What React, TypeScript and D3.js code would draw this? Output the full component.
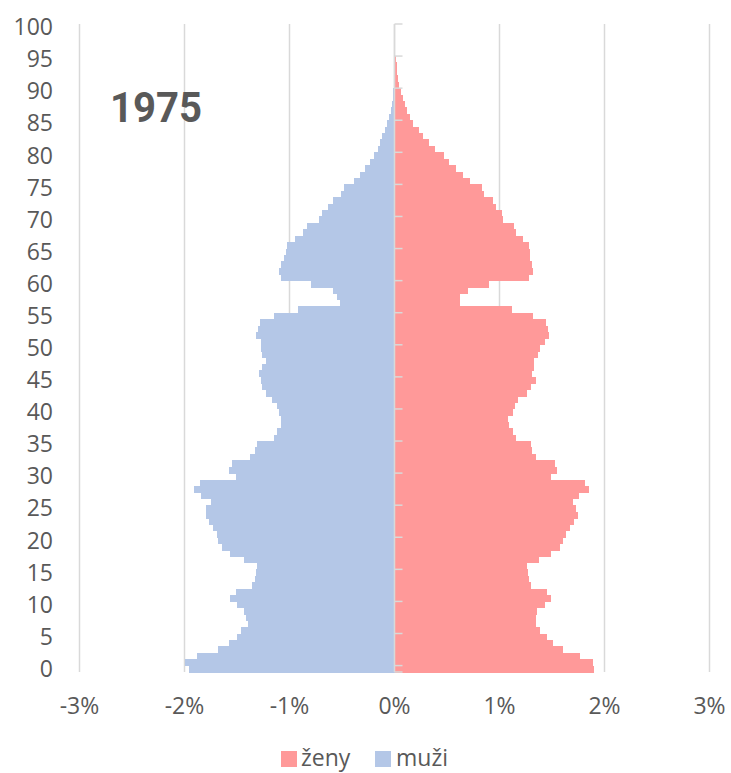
import React from "react";
import * as d3 from "d3";

// Age categories 0..100
const ages: number[] = Array.from({ length: 101 }, (_, i) => i);

// Share of population (%) by single year of age, women (ženy)
const zeny: number[] = [
  1.90, 1.89, 1.77, 1.60, 1.51, 1.45, 1.39, 1.35, 1.35, 1.36,
  1.43, 1.49, 1.45, 1.30, 1.28, 1.27, 1.26, 1.38, 1.49, 1.58,
  1.60, 1.63, 1.67, 1.71, 1.75, 1.73, 1.70, 1.76, 1.85, 1.81,
  1.49, 1.55, 1.53, 1.35, 1.31, 1.30, 1.16, 1.13, 1.09, 1.08,
  1.13, 1.15, 1.18, 1.26, 1.30, 1.35, 1.31, 1.33, 1.33, 1.37,
  1.39, 1.43, 1.47, 1.46, 1.44, 1.32, 1.12, 0.62, 0.62, 0.70,
  0.90, 1.28, 1.32, 1.31, 1.29, 1.29, 1.28, 1.22, 1.16, 1.14,
  1.03, 1.02, 0.97, 0.94, 0.85, 0.83, 0.72, 0.65, 0.59, 0.52,
  0.47, 0.39, 0.33, 0.27, 0.23, 0.18, 0.15, 0.12, 0.10, 0.078,
  0.059, 0.046, 0.036, 0.027, 0.020, 0.014, 0.009, 0.006, 0.004, 0.002,
  0.001,
];

// Share of population (%) by single year of age, men (muži)
const muzi: number[] = [
  1.96, 2.00, 1.88, 1.68, 1.58, 1.50, 1.46, 1.40, 1.41, 1.43,
  1.50, 1.57, 1.51, 1.36, 1.33, 1.32, 1.31, 1.43, 1.57, 1.64,
  1.68, 1.69, 1.73, 1.77, 1.80, 1.80, 1.75, 1.84, 1.91, 1.85,
  1.51, 1.58, 1.55, 1.38, 1.33, 1.31, 1.15, 1.12, 1.08, 1.08,
  1.10, 1.12, 1.17, 1.22, 1.26, 1.27, 1.29, 1.26, 1.22, 1.26,
  1.27, 1.27, 1.32, 1.30, 1.28, 1.15, 0.92, 0.52, 0.55, 0.59,
  0.80, 1.08, 1.10, 1.08, 1.05, 1.03, 1.02, 0.95, 0.87, 0.83,
  0.72, 0.69, 0.63, 0.59, 0.51, 0.48, 0.39, 0.33, 0.28, 0.23,
  0.20, 0.16, 0.14, 0.12, 0.094, 0.068, 0.049, 0.037, 0.024, 0.017,
  0.011, 0.008, 0.005, 0.003, 0.002, 0.001, 0.001, 0.0005, 0, 0,
  0,
];

const xTicks: number[] = [-3, -2, -1, 0, 1, 2, 3];
const yTickLabels: number[] = [0, 5, 10, 15, 20, 25, 30, 35, 40, 45, 50, 55, 60, 65, 70, 75, 80, 85, 90, 95, 100];
const title = "1975";
const legendItems = [
  { label: "ženy", color: "#FF9999" },
  { label: "muži", color: "#B4C7E7" },
];

const W = 731;
const H = 773;
const plotTop = 24;
const plotBottom = 672;
const FONT = "'Open Sans', 'Noto Sans', sans-serif";
const TEXT = "#595959";
const GRID = "#D9D9D9";

export default function App() {
  const x = d3.scaleLinear().domain([-3, 3]).range([79.5, 709.5]);
  const y = d3
    .scaleBand<number>()
    .domain(ages.slice().reverse())
    .range([plotTop, plotBottom])
    .paddingInner(0)
    .paddingOuter(0);
  const bw = y.bandwidth();

  const tickBoundaries = yTickLabels.map((a) => y(a)!);
  tickBoundaries.push(plotBottom);

  return (
    <svg
      width={W}
      height={H}
      style={{ position: "absolute", left: 0, top: 0, background: "#fff" }}
      fontFamily={FONT}
    >
      <rect x={0} y={0} width={W} height={H} fill="#fff" />
      {/* gridlines */}
      {xTicks.map((t) => (
        <line
          key={"g" + t}
          x1={x(t)}
          x2={x(t)}
          y1={plotTop}
          y2={plotBottom}
          stroke={GRID}
          strokeWidth={1.5}
        />
      ))}
      {/* bars */}
      <g shapeRendering="crispEdges">
        {ages.map((a, i) => (
          <rect
            key={"m" + a}
            x={x(-muzi[i])}
            y={y(a)!}
            width={x(0) - x(-muzi[i])}
            height={bw + 0.5}
            fill="#B4C7E7"
          />
        ))}
        {ages.map((a, i) => (
          <rect
            key={"z" + a}
            x={x(0)}
            y={y(a)!}
            width={x(zeny[i]) - x(0)}
            height={bw + 0.5}
            fill="#FF9999"
          />
        ))}
      </g>
      {/* category axis at 0 */}
      <line x1={x(0)} x2={x(0)} y1={plotTop} y2={plotBottom} stroke={GRID} strokeWidth={1.5} />
      {tickBoundaries.map((yy, i) => (
        <line key={"t" + i} x1={x(0)} x2={x(0) + 8} y1={yy} y2={yy} stroke={GRID} strokeWidth={1.5} />
      ))}
      {/* y labels */}
      {yTickLabels.map((a) => (
        <text
          key={"yl" + a}
          x={53}
          y={y(a)! + bw / 2}
          dy="0.35em"
          textAnchor="end"
          fontSize={23}
          fill={TEXT}
        >
          {a}
        </text>
      ))}
      {/* x labels */}
      {xTicks.map((t) => (
        <text
          key={"xl" + t}
          x={x(t)}
          y={714}
          textAnchor="middle"
          fontSize={23}
          fill={TEXT}
        >
          {t + "%"}
        </text>
      ))}
      {/* title */}
      <text
        x={110}
        y={121.5}
        fontFamily="Roboto, sans-serif"
        fontWeight="bold"
        fontSize={43}
        fill={TEXT}
        textLength={92}
        lengthAdjust="spacingAndGlyphs"
      >
        {title}
      </text>
      {/* legend */}
      <g>
        <rect x={281} y={751} width={16} height={16} fill={legendItems[0].color} />
        <text x={301} y={766} fontSize={23} fill={TEXT}>
          {legendItems[0].label}
        </text>
        <rect x={375} y={751} width={16} height={16} fill={legendItems[1].color} />
        <text x={396} y={766} fontSize={23} fill={TEXT}>
          {legendItems[1].label}
        </text>
      </g>
    </svg>
  );
}
